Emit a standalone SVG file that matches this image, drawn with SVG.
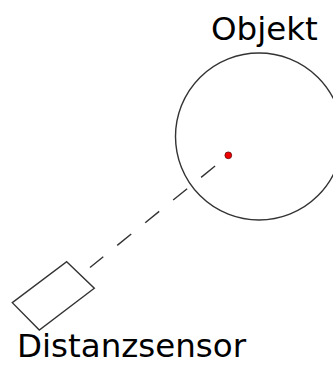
<svg xmlns="http://www.w3.org/2000/svg" width="333" height="365" viewBox="0 0 333 365">
<style>
.lbl{font-family:"DejaVu Sans",sans-serif;font-size:32.5px;fill:#000}
.ln{fill:none;stroke:#333;stroke-width:1.4}
</style>
<rect width="333" height="365" fill="#fff"/>
<g id="connectors">
<line class="ln" x1="228.3" y1="155.3" x2="90" y2="267.5" stroke-dasharray="18,18" stroke-dashoffset="19"/>
</g>
<g id="objekt">
<circle class="ln" cx="259" cy="136.5" r="83.5"/>
<circle cx="228.3" cy="155.3" r="3.4" fill="#e00" stroke="#500" stroke-width="0.7"/>
<text class="lbl" x="211" y="40">Objekt</text>
</g>
<g id="distanzsensor">
<polygon class="ln" points="66.7,261.7 94.3,288.3 39.3,330 12.3,302.7"/>
<text class="lbl" x="17" y="357">Distanzsensor</text>
</g>
</svg>
